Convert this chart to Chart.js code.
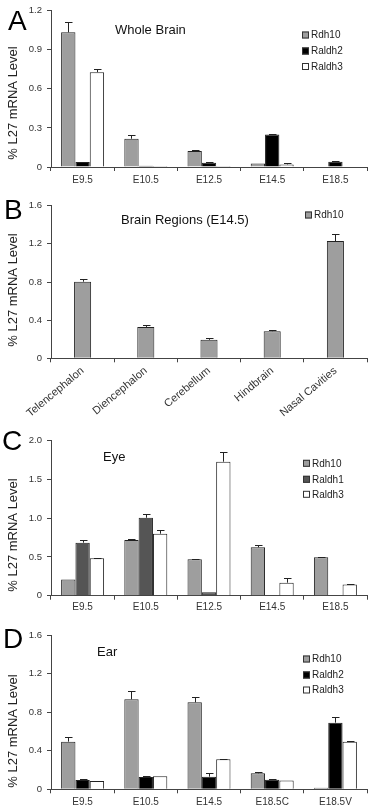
<!DOCTYPE html>
<html>
<head>
<meta charset="utf-8">
<script src="https://cdn.jsdelivr.net/npm/chart.js@4"></script>
<style>
  html, body { margin: 0; padding: 0; background: #fff; }
  #wrap { position: relative; width: 374px; height: 812px; overflow: hidden; }
  .pane { position: absolute; left: 0; width: 374px; }
</style>
</head>
<body>
<div id="wrap">
  <div class="pane" style="top:0px;height:195px"><canvas id="cA"></canvas></div>
  <div class="pane" style="top:195px;height:225px"><canvas id="cB"></canvas></div>
  <div class="pane" style="top:420px;height:195px"><canvas id="cC"></canvas></div>
  <div class="pane" style="top:615px;height:197px"><canvas id="cD"></canvas></div>
</div>
<script>
// ---------- DATA ----------
// Panel A: Whole Brain
const categoriesA = ['E9.5', 'E10.5', 'E12.5', 'E14.5', 'E18.5'];
const rdh10A      = [1.034, 0.217, 0.123, 0.026, null];
const raldh2A     = [0.038, 0.010, 0.033, 0.250, 0.041];
const raldh3A     = [0.728, 0.008, 0.008, 0.020, null];
const rdh10ErrA   = [1.116, 0.243, 0.128, null, null];
const raldh2ErrA  = [null, null, 0.040, 0.255, 0.048];
const raldh3ErrA  = [0.753, null, null, 0.028, null];
const yTicksA      = [0, 0.3, 0.6, 0.9, 1.2];
const yTickLabelsA = ['0', '0.3', '0.6', '0.9', '1.2'];

// Panel B: Brain Regions (E14.5)
const categoriesB = ['Telencephalon', 'Diencephalon', 'Cerebellum', 'Hindbrain', 'Nasal Cavities'];
const rdh10B      = [0.803, 0.329, 0.194, 0.284, 1.229];
const rdh10ErrB   = [0.830, 0.346, 0.215, 0.300, 1.300];
const yTicksB      = [0, 0.4, 0.8, 1.2, 1.6];
const yTickLabelsB = ['0', '0.4', '0.8', '1.2', '1.6'];

// Panel C: Eye
const categoriesC = ['E9.5', 'E10.5', 'E12.5', 'E14.5', 'E18.5'];
const rdh10C      = [0.210, 0.718, 0.469, 0.624, 0.495];
const raldh1C     = [0.684, 1.006, 0.043, null, null];
const raldh3C     = [0.482, 0.800, 1.729, 0.168, 0.146];
const rdh10ErrC   = [null, 0.731, 0.477, 0.654, 0.503];
const raldh1ErrC  = [0.718, 1.049, null, null, null];
const raldh3ErrC  = [0.490, 0.847, 1.858, 0.224, 0.155];
const yTicksC      = [0, 0.5, 1.0, 1.5, 2.0];
const yTickLabelsC = ['0', '0.5', '1.0', '1.5', '2.0'];

// Panel D: Ear
const categoriesD = ['E9.5', 'E10.5', 'E14.5', 'E18.5C', 'E18.5V'];
const rdh10D      = [0.494, 0.933, 0.902, 0.166, 0.017];
const raldh2D     = [0.097, 0.128, 0.131, 0.100, 0.691];
const raldh3D     = [0.086, 0.135, 0.311, 0.090, 0.494];
const rdh10ErrD   = [0.539, 1.019, 0.957, 0.183, null];
const raldh2ErrD  = [0.104, 0.138, 0.166, 0.107, 0.746];
const raldh3ErrD  = [null, null, 0.318, null, 0.505];
const yTicksD      = [0, 0.4, 0.8, 1.2, 1.6];
const yTickLabelsD = ['0', '0.4', '0.8', '1.2', '1.6'];

// ---------- STYLE ----------
const FONT = '"Liberation Sans", Arial, Helvetica, sans-serif';
const COL_RDH10 = '#9e9e9e';
const COL_BLACK = '#000000';
const COL_WHITE = '#ffffff';
const COL_RALDH1 = '#555555';
const AXIS_COL = '#444444';
const TEXT_COL = '#333333';

// Error bars drawn from the data through the y scale
const errorBarPlugin = {
  id: 'errorBars',
  afterDatasetsDraw(chart) {
    const ctx = chart.ctx;
    const yScale = chart.scales.y;
    ctx.save();
    ctx.strokeStyle = '#222';
    ctx.lineWidth = 1;
    chart.data.datasets.forEach((ds, di) => {
      if (!ds.errors) return;
      const meta = chart.getDatasetMeta(di);
      ds.errors.forEach((e, i) => {
        if (e == null || ds.data[i] == null) return;
        const bar = meta.data[i];
        const x = Math.round(bar.x) + 0.5;
        const yTop = yScale.getPixelForValue(ds.data[i]);
        const yE = Math.round(yScale.getPixelForValue(e)) + 0.5;
        ctx.beginPath();
        ctx.moveTo(x, yTop);
        ctx.lineTo(x, yE);
        ctx.moveTo(x - 3.5, yE);
        ctx.lineTo(x + 4, yE);
        ctx.stroke();
      });
    });
    ctx.restore();
  }
};

// Panel letter, title, y-title and in-plot legend
const decorPlugin = {
  id: 'decor',
  afterDraw(chart, args, o) {
    const ctx = chart.ctx;
    ctx.save();
    // Panel letter
    ctx.fillStyle = '#000';
    ctx.font = '28px ' + FONT;
    ctx.textAlign = 'left';
    ctx.textBaseline = 'alphabetic';
    ctx.fillText(o.letter, o.letterX, o.letterY);
    // Title
    ctx.font = '13px ' + FONT;
    ctx.textBaseline = 'middle';
    ctx.fillStyle = '#111';
    ctx.fillText(o.title, o.titleX, o.titleY);
    // Y axis title
    ctx.save();
    ctx.translate(13, o.yTitleY);
    ctx.rotate(-Math.PI / 2);
    ctx.textAlign = 'center';
    ctx.fillStyle = '#222';
    ctx.font = '13px ' + FONT;
    ctx.fillText('% L27 mRNA Level', 0, 0);
    ctx.restore();
    // Legend
    ctx.font = '10px ' + FONT;
    ctx.textBaseline = 'middle';
    ctx.textAlign = 'left';
    chart.data.datasets.forEach((ds, i) => {
      const y = o.legendY[i];
      const x = o.legendX;
      ctx.fillStyle = ds.backgroundColor;
      ctx.fillRect(x, y - 3.5, 7, 7);
      ctx.strokeStyle = '#333';
      ctx.lineWidth = 1;
      ctx.strokeRect(x + 0.5, y - 3, 6, 6);
      ctx.fillStyle = '#222';
      ctx.fillText(ds.label, x + 9, y + 0.5);
    });
    ctx.restore();
  }
};

function dataset(label, data, errors, color) {
  return {
    label, data, errors,
    backgroundColor: color,
    borderColor: '#222',
    borderWidth: 1,
    borderSkipped: 'start',
    barPercentage: 1.0
  };
}

function makeChart(id, p) {
  const ctx = document.getElementById(id);
  return new Chart(ctx, {
    type: 'bar',
    data: { labels: p.labels, datasets: p.datasets },
    options: {
      responsive: true,
      maintainAspectRatio: false,
      animation: false,
      devicePixelRatio: 1,
      datasets: { bar: { categoryPercentage: p.catPct, barPercentage: 1.0 } },
      layout: { padding: { top: p.padTop, right: 7, left: 0, bottom: 0 } },
      plugins: {
        legend: { display: false },
        tooltip: { enabled: false },
        decor: p.decor
      },
      scales: {
        x: {
          grid: { display: true, drawOnChartArea: false, drawTicks: true, tickLength: 4, offset: true, color: AXIS_COL },
          border: { display: true, color: AXIS_COL, width: 1 },
          ticks: {
            autoSkip: false,
            color: TEXT_COL,
            font: { family: FONT, size: p.xFont || 10 },
            padding: p.xPad,
            minRotation: p.rot || 0,
            maxRotation: p.rot || 0
          },
          afterFit: (s) => { s.height = p.xHeight; }
        },
        y: {
          min: p.yTicks[0],
          max: p.yTicks[p.yTicks.length - 1],
          grid: { display: true, drawOnChartArea: false, drawTicks: true, tickLength: 4, color: AXIS_COL },
          border: { display: true, color: AXIS_COL, width: 1 },
          ticks: {
            color: TEXT_COL,
            font: { family: FONT, size: 9.5 },
            padding: 5,
            callback: (v, i) => p.yLabels[i]
          },
          afterBuildTicks: (s) => { s.ticks = p.yTicks.map(v => ({ value: v })); },
          afterFit: (s) => { s.width = 51; }
        }
      }
    },
    plugins: [errorBarPlugin, decorPlugin]
  });
}

makeChart('cA', {
  labels: categoriesA,
  datasets: [
    dataset('Rdh10', rdh10A, rdh10ErrA, COL_RDH10),
    dataset('Raldh2', raldh2A, raldh2ErrA, COL_BLACK),
    dataset('Raldh3', raldh3A, raldh3ErrA, COL_WHITE)
  ],
  catPct: 0.68, padTop: 10, xHeight: 28, xPad: 3,
  yTicks: yTicksA, yLabels: yTickLabelsA,
  decor: { letter: 'A', letterX: 8, letterY: 30, title: 'Whole Brain', titleX: 115, titleY: 30,
           yTitleY: 103, legendX: 302, legendY: [35, 51, 66.5] }
});

makeChart('cB', {
  labels: categoriesB,
  datasets: [
    dataset('Rdh10', rdh10B, rdh10ErrB, COL_RDH10)
  ],
  catPct: 0.27, padTop: 9.3, xHeight: 61.7, xPad: 2, rot: 40, xFont: 11,
  yTicks: yTicksB, yLabels: yTickLabelsB,
  decor: { letter: 'B', letterX: 4, letterY: 24, title: 'Brain Regions (E14.5)', titleX: 121, titleY: 25,
           yTitleY: 95, legendX: 305, legendY: [20] }
});

makeChart('cC', {
  labels: categoriesC,
  datasets: [
    dataset('Rdh10', rdh10C, rdh10ErrC, COL_RDH10),
    dataset('Raldh1', raldh1C, raldh1ErrC, COL_RALDH1),
    dataset('Raldh3', raldh3C, raldh3ErrC, COL_WHITE)
  ],
  catPct: 0.68, padTop: 20.7, xHeight: 19.3, xPad: 2,
  yTicks: yTicksC, yLabels: yTickLabelsC,
  decor: { letter: 'C', letterX: 2, letterY: 30, title: 'Eye', titleX: 103, titleY: 37,
           yTitleY: 115, legendX: 303, legendY: [43.3, 59.3, 74.3] }
});

makeChart('cD', {
  labels: categoriesD,
  datasets: [
    dataset('Rdh10', rdh10D, rdh10ErrD, COL_RDH10),
    dataset('Raldh2', raldh2D, raldh2ErrD, COL_BLACK),
    dataset('Raldh3', raldh3D, raldh3ErrD, COL_WHITE)
  ],
  catPct: 0.68, padTop: 20, xHeight: 22.7, xPad: 3,
  yTicks: yTicksD, yLabels: yTickLabelsD,
  decor: { letter: 'D', letterX: 3, letterY: 33, title: 'Ear', titleX: 97, titleY: 37,
           yTitleY: 116, legendX: 303, legendY: [44, 60, 75] }
});
</script>
</body>
</html>
